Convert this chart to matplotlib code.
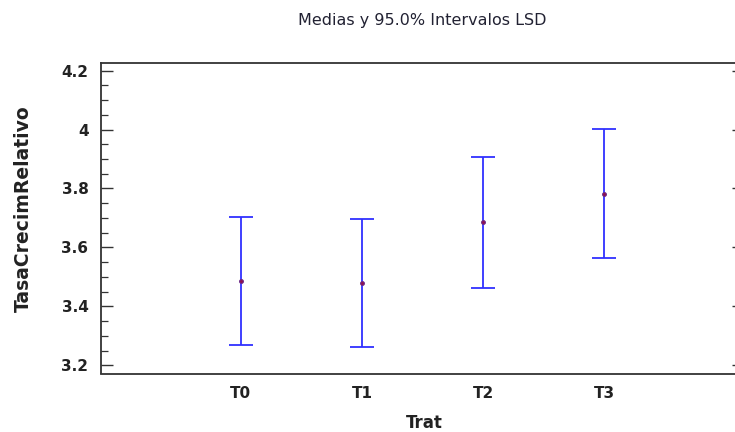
import matplotlib.pyplot as plt
from matplotlib.ticker import MultipleLocator, FuncFormatter

# Medias y intervalos LSD al 95% por tratamiento
trat = ['T0', 'T1', 'T2', 'T3']
medias = [3.485, 3.479, 3.685, 3.783]
lim_inf = [3.270, 3.261, 3.463, 3.565]
lim_sup = [3.704, 3.698, 3.906, 4.001]

W, H = 735, 432
fig = plt.figure(figsize=(W / 100, H / 100), dpi=100)
# right spine falls just outside the picture, as in the original
ax = fig.add_axes([101 / W, 1 - 373.5 / H, 643 / W, 310.5 / H])

x = list(range(len(trat)))
err_low = [m - l for m, l in zip(medias, lim_inf)]
err_high = [u - m for m, u in zip(medias, lim_sup)]
ax.errorbar(x, medias, yerr=[err_low, err_high], fmt='none',
            ecolor='#3030ff', elinewidth=1.3, capsize=8.6, capthick=1.3)
ax.plot(x, medias, 'o', ms=2.8, mfc='#901050', mec='#6a2a8a', mew=0.7)

ax.set_xlim(-1.153, 4.153)
ax.set_ylim(3.172, 4.226)
ax.set_xticks(x)
ax.set_xticklabels(trat)
ax.yaxis.set_major_locator(MultipleLocator(0.2))
ax.yaxis.set_minor_locator(MultipleLocator(0.05))
ax.yaxis.set_major_formatter(FuncFormatter(lambda v, p: '{:g}'.format(round(v, 2))))

ax.tick_params(axis='x', length=0, pad=9)
ax.tick_params(axis='y', which='major', direction='in', length=8.8, width=1,
               right=True, color='#333333', pad=9)
ax.tick_params(axis='y', which='minor', direction='in', length=5.2, width=0.9,
               right=True, color='#333333')
for lab in ax.get_xticklabels() + ax.get_yticklabels():
    lab.set_family('DejaVu Sans')
    lab.set_fontweight('bold')
    lab.set_fontsize(11)
    lab.set_color('#222222')

for s in ax.spines.values():
    s.set_color('#333333')
    s.set_linewidth(1.3)

ax.set_xlabel('Trat', fontweight='bold', fontsize=12, color='#222222')
ax.xaxis.set_label_coords((424 - 101) / 643, (373.5 - 414) / 310.5)
ax.set_ylabel('TasaCrecimRelativo', fontweight='bold', fontsize=13.5,
              color='#222222')
ax.yaxis.set_label_coords((33 - 101) / 643, (373.5 - 208.5) / 310.5)
fig.text(422 / W, 1 - 20 / H, 'Medias y 95.0% Intervalos LSD',
         ha='center', va='center', fontsize=11.5, color='#222233')

fig.savefig('out.png', dpi=100)
